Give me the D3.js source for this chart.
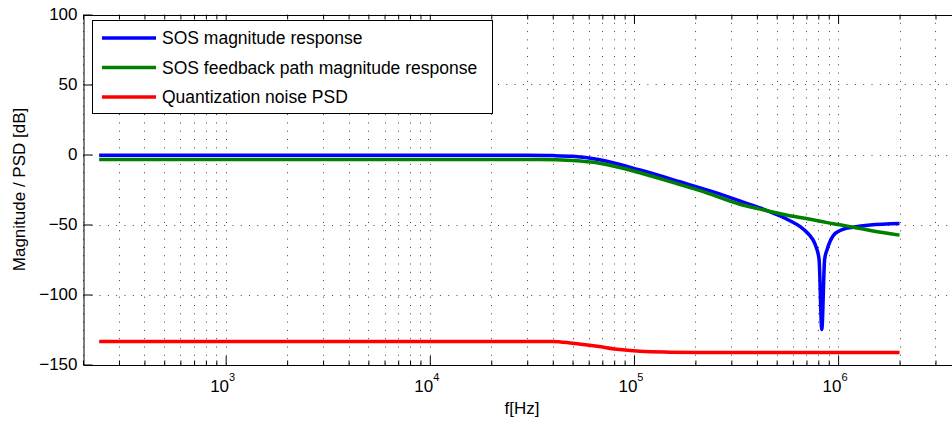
<!DOCTYPE html>
<html>
<head>
<meta charset="utf-8">
<script src="https://cdn.jsdelivr.net/npm/d3@7"></script>
<style>
  body { margin: 0; background: #fff; }
  svg { display: block; font-family: "Liberation Sans", Arial, Helvetica, sans-serif; }
</style>
</head>
<body>
<div class="container"></div>
<script>
const width = 952,
    height = 421,
    plotLeft = 83,
    plotRight = 961,
    plotTop = 14.5,
    plotBottom = 364.5;

// values
const sosFreq = [240, 1e4, 3e4, 4e4, 5e4, 6.8e4, 1.07e5, 1.68e5, 2.11e5, 2.36e5, 3.3e5, 4.15e5, 4.65e5,
  5.5e5, 5.81e5, 6.52e5, 6.88e5, 7.28e5, 7.57e5, 7.8e5, 8.07e5, 8.32e5, 8.59e5, 8.83e5, 9.14e5,
  9.46e5, 1.024e6, 1.082e6, 1.184e6, 1.435e6, 2e6];
const sosMag = [-0.5, -0.5, -0.6, -0.8, -1.3, -3.8, -11.1, -19.5, -23.9, -26, -33.2, -38.2, -41,
  -45.5, -47.3, -51.5, -54.3, -58, -61.5, -66, -75, -125, -75, -68, -62,
  -58, -54.3, -53, -51.9, -50.3, -49.2];

const fbFreq = [240, 3.46e4, 5.02e4, 6.8e4, 1.07e5, 1.68e5, 2.11e5, 3.3e5, 4.15e5, 4.65e5, 5.5e5,
  6.52e5, 7.3e5, 8.73e5, 9.46e5, 1.08e6, 1.19e6, 1.44e6, 2e6];
const fbMag = [-3.5, -3.6, -4.3, -6.2, -13, -21.5, -25.8, -35.5, -39, -40.7, -43,
  -45, -46.3, -48.5, -49.5, -50.8, -51.9, -54.3, -57.6];

const noiseFreq = [240, 4e4, 5e4, 6.6e4, 8.5e4, 1.07e5, 1.5e5, 2.1e5, 2e6];
const noisePsd = [-133.5, -133.5, -134.8, -137, -139.3, -140.6, -141.2, -141.4, -141.4];

const yTicks = [-150, -100, -50, 0, 50, 100];
const xDecades = [1e3, 1e4, 1e5, 1e6];
const xExponents = ["3", "4", "5", "6"];
const legendLabels = ["SOS magnitude response", "SOS feedback path magnitude response", "Quantization noise PSD"];

let svgContainer;

const createCanvas = () => {
  return d3.select('.container')
           .append('svg')
           .attr('width', width)
           .attr('height', height);
};

const defineScales = () => {
  const xScale = d3.scaleLog()
                   .domain([200, 4e6])
                   .range([plotLeft, plotRight]);
  const yScale = d3.scaleLinear()
                   .domain([-150, 100])
                   .range([plotBottom, plotTop]);
  return { xScale, yScale };
};

const crisp = (v) => Math.round(v) + 0.5;

const createGrid = (scales) => {
  const grid = svgContainer.append('g').attr('class', 'grid');
  const allX = scales.xScale.ticks();

  grid.selectAll('.vgrid')
      .data(allX)
      .enter()
      .append('line')
      .attr('x1', d => crisp(scales.xScale(d)))
      .attr('x2', d => crisp(scales.xScale(d)))
      .attr('y1', plotTop)
      .attr('y2', plotBottom)
      .attr('stroke', '#444')
      .attr('stroke-dasharray', '1,7.3');

  grid.selectAll('.hgrid')
      .data(yTicks.slice(1, -1))
      .enter()
      .append('line')
      .attr('x1', plotLeft)
      .attr('x2', plotRight)
      .attr('y1', d => crisp(scales.yScale(d)))
      .attr('y2', d => crisp(scales.yScale(d)))
      .attr('stroke', '#444')
      .attr('stroke-dasharray', '1,7.3');
};

const createAxes = (scales) => {
  const allX = scales.xScale.ticks();
  const isMajor = d => xDecades.indexOf(d) >= 0;

  // bottom axis, ticks pointing inward
  svgContainer.append('g')
              .attr('id', 'x-axis')
              .attr('transform', `translate(0, ${crisp(plotBottom) - 0.5})`)
              .call(d3.axisBottom(scales.xScale)
                      .tickValues(allX)
                      .tickSizeOuter(0)
                      .tickFormat(''))
              .call(g => g.selectAll('.tick line')
                          .attr('y2', d => isMajor(d) ? -9 : -4.5)
                          .attr('stroke', '#000'))
              .call(g => g.select('.domain').attr('stroke', '#000'));

  // top axis (box)
  svgContainer.append('g')
              .attr('transform', `translate(0, ${crisp(plotTop) - 0.5})`)
              .call(d3.axisTop(scales.xScale)
                      .tickValues(allX)
                      .tickSizeOuter(0)
                      .tickFormat(''))
              .call(g => g.selectAll('.tick line')
                          .attr('y2', d => isMajor(d) ? 9 : 4.5)
                          .attr('stroke', '#000'))
              .call(g => g.select('.domain').attr('stroke', '#000'));

  // x labels 10^n
  const xLabels = svgContainer.append('g').attr('class', 'x-labels');
  xDecades.forEach((d, i) => {
    const t = xLabels.append('text')
                     .attr('x', scales.xScale(d) - 3)
                     .attr('y', 391.5)
                     .attr('text-anchor', 'middle')
                     .attr('font-size', 17)
                     .attr('fill', '#000');
    t.append('tspan').text('10');
    t.append('tspan')
     .attr('dy', -10.5)
     .attr('font-size', 11)
     .text(xExponents[i]);
  });

  // left axis
  svgContainer.append('g')
              .attr('id', 'y-axis')
              .attr('transform', `translate(${crisp(plotLeft)}, 0)`)
              .call(d3.axisLeft(scales.yScale)
                      .tickValues(yTicks)
                      .tickSizeInner(-9)
                      .tickSizeOuter(0)
                      .tickPadding(6)
                      .tickFormat(d => d < 0 ? '\u2212' + Math.abs(d) : d))
              .call(g => g.selectAll('.tick line').attr('stroke', '#000'))
              .call(g => g.select('.domain').attr('stroke', '#000'))
              .call(g => g.selectAll('.tick text')
                          .attr('font-size', 17)
                          .attr('font-family', '"Liberation Sans", Arial, sans-serif')
                          .attr('fill', '#000'));

  svgContainer.append('text')
              .attr('x', 522)
              .attr('y', 414)
              .attr('text-anchor', 'middle')
              .attr('font-size', 17)
              .text('f[Hz]');

  svgContainer.append('text')
              .attr('transform', `translate(25, ${(plotTop + plotBottom) / 2}) rotate(-90)`)
              .attr('text-anchor', 'middle')
              .attr('font-size', 17)
              .text('Magnitude / PSD [dB]');
};

const createLines = (scales) => {
  const line = d3.line()
                 .x(d => scales.xScale(d[0]))
                 .y(d => scales.yScale(d[1]))
                 .curve(d3.curveMonotoneX);

  const series = [
    { freq: sosFreq, vals: sosMag, color: '#0000ff' },
    { freq: fbFreq, vals: fbMag, color: '#008000' },
    { freq: noiseFreq, vals: noisePsd, color: '#ff0000' }
  ];

  svgContainer.append('g')
              .selectAll('path')
              .data(series)
              .enter()
              .append('path')
              .attr('d', s => line(s.freq.map((f, i) => [f, s.vals[i]])))
              .attr('fill', 'none')
              .attr('stroke', s => s.color)
              .attr('stroke-width', 3.5)
              .attr('stroke-linejoin', 'round');
};

const createLegend = () => {
  const colors = ['#0000ff', '#008000', '#ff0000'];
  const lg = svgContainer.append('g').attr('class', 'legend');
  lg.append('rect')
    .attr('x', 92.5)
    .attr('y', 20.5)
    .attr('width', 400)
    .attr('height', 93)
    .attr('fill', '#fff')
    .attr('stroke', '#000');

  const rows = lg.selectAll('.row')
                 .data(legendLabels)
                 .enter()
                 .append('g')
                 .attr('transform', (d, i) => `translate(0, ${38 + i * 29.5})`);
  rows.append('line')
      .attr('x1', 102)
      .attr('x2', 156)
      .attr('stroke', (d, i) => colors[i])
      .attr('stroke-width', 3.5);
  rows.append('text')
      .attr('x', 162)
      .attr('dy', '0.35em')
      .attr('font-size', 17.5)
      .text(d => d);
};

const drawChart = () => {
  svgContainer = createCanvas();
  const scales = defineScales();
  createGrid(scales);
  createLines(scales);
  createAxes(scales);
  createLegend();
};

drawChart();
</script>
</body>
</html>
